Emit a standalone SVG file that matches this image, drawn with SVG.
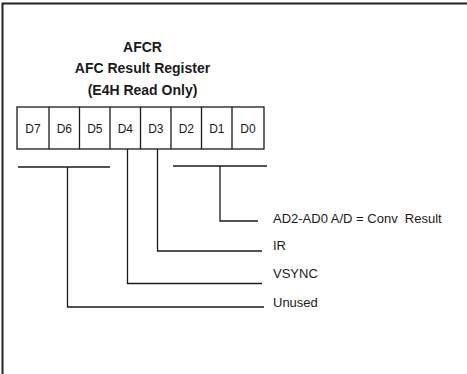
<svg xmlns="http://www.w3.org/2000/svg" width="467" height="374" viewBox="0 0 467 374">
<style>
.t{font-family:"Liberation Sans",Arial,sans-serif;fill:#1a1a1a}
.h{font-size:14px;font-weight:bold;text-anchor:middle}
.c{font-size:12px;text-anchor:middle}
.l{font-size:13px}
.ln{stroke:#1a1a1a;stroke-width:1.3;fill:none}
</style>
<rect width="467" height="374" fill="#fff"/>
<g id="frame">
<path d="M2.5,374 V3.5 H467" stroke="#222" stroke-width="2" fill="none"/>
</g>
<g id="title">
<text class="t h" x="142.5" y="52">AFCR</text>
<text class="t h" x="142.5" y="73">AFC Result Register</text>
<text class="t h" x="142.5" y="95">(E4H Read Only)</text>
</g>
<g id="register">
<rect class="ln" x="17" y="107" width="247" height="42"/>
<path class="ln" d="M49,107V149M79.5,107V149M110,107V149M140.5,107V149M171,107V149M201.5,107V149M232,107V149"/>
<text class="t c" x="33" y="133">D7</text>
<text class="t c" x="64.3" y="133">D6</text>
<text class="t c" x="94.8" y="133">D5</text>
<text class="t c" x="125.3" y="133">D4</text>
<text class="t c" x="155.8" y="133">D3</text>
<text class="t c" x="186.3" y="133">D2</text>
<text class="t c" x="216.8" y="133">D1</text>
<text class="t c" x="248" y="133">D0</text>
</g>
<g id="connectors">
<path class="ln" d="M18,167H110"/>
<path class="ln" d="M67.5,167V307H264"/>
<path class="ln" d="M127.5,149V283.5H262"/>
<path class="ln" d="M157.5,149V251H262"/>
<path class="ln" d="M173,166H267"/>
<path class="ln" d="M220,166V221H258"/>
</g>
<g id="labels">
<text class="t l" x="273" y="223">AD2-AD0 A/D = Conv&#160; Result</text>
<text class="t l" x="273" y="250">IR</text>
<text class="t l" x="273" y="278">VSYNC</text>
<text class="t l" x="273" y="307">Unused</text>
</g>
</svg>
